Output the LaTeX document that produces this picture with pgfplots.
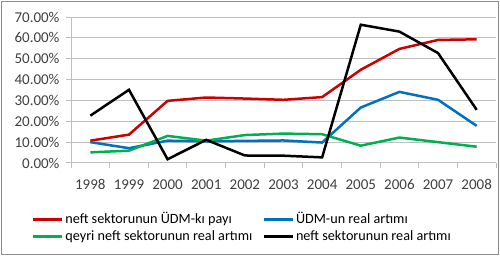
\documentclass[border=0pt]{standalone}
\usepackage{pgfplots}
\pgfplotsset{compat=1.18}
\usepackage{fontspec}
\setmainfont{Carlito}
\definecolor{cred}{RGB}{204,0,0}
\definecolor{cblue}{RGB}{0,112,192}
\definecolor{cgreen}{RGB}{0,176,80}
\definecolor{gridc}{RGB}{190,190,190}
\definecolor{txt}{RGB}{64,64,64}
\begin{document}
\begin{tikzpicture}
\useasboundingbox (0pt,0pt) rectangle (500pt,256pt);
\draw[color=gray!90,line width=1.2pt] (1.5pt,1.5pt) rectangle (498.5pt,254.5pt);
\begin{axis}[
  at={(71pt,93pt)}, anchor=south west,
  scale only axis, width=425pt, height=146pt,
  xmin=-0.5, xmax=10.5, ymin=0, ymax=70,
  axis lines*=left,
  axis line style={gridc, line width=1pt},
  xtick={0,...,10},
  xticklabels={1998,1999,2000,2001,2002,2003,2004,2005,2006,2007,2008},
  major x tick style={draw=none},
  minor xtick={-0.5,0.5,...,10.5},
  minor x tick style={gridc, line width=1pt},
  minor tick length=5pt,
  ytick={0,10,...,70},
  major tick length=5pt,
  major y tick style={gridc, line width=1pt},
  tick align=outside,
  ymajorgrids, grid style={gridc, line width=1pt},
  yticklabel={\pgfmathprintnumber[fixed,fixed zerofill,precision=2]{\tick}\%},
  /pgf/number format/assume math mode=true,
  ticklabel style={font=\fontsize{15}{16}\selectfont, text=txt},
  xticklabel style={yshift=-8pt},
  yticklabel style={xshift=-3pt},
  legend columns=2,
  legend style={draw=none, fill=none, at={(-0.0925,-0.335)}, anchor=north west,
    font=\fontsize{14.2}{16}\selectfont, text=black, inner sep=0pt, row sep=2pt,
    nodes={inner sep=0pt, text height=11pt, text depth=4pt},
    /tikz/every odd column/.append style={column sep=2pt},
    /tikz/every even column/.append style={column sep=10pt}},
  legend cell align=left,
  legend image code/.code={\draw[#1, line width=2.5pt] (0pt,0pt) -- (29pt,0pt);},
  every axis plot/.append style={line width=2.5pt, mark=none},
  clip=false,
]
\addplot[cred] coordinates {(0,10.7)(1,13.6)(2,29.8)(3,31.4)(4,30.9)(5,30.3)(6,31.6)(7,44.7)(8,54.7)(9,59.0)(10,59.3)};
\addlegendentry{neft sektorunun ÜDM-kı payı}
\addplot[cblue] coordinates {(0,10.0)(1,7.1)(2,10.7)(3,10.4)(4,10.6)(5,10.8)(6,9.8)(7,26.6)(8,34.1)(9,30.3)(10,17.8)};
\addlegendentry{ÜDM-un real artımı}
\addplot[cgreen] coordinates {(0,5.1)(1,5.9)(2,13.0)(3,10.7)(4,13.4)(5,14.1)(6,13.8)(7,8.3)(8,12.2)(9,10.0)(10,7.8)};
\addlegendentry{qeyri neft sektorunun real artımı}
\addplot[black] coordinates {(0,22.7)(1,35.1)(2,1.8)(3,11.1)(4,3.6)(5,3.5)(6,2.7)(7,66.3)(8,63.0)(9,52.7)(10,25.5)};
\addlegendentry{neft sektorunun real artımı}
\end{axis}
\end{tikzpicture}
\end{document}
